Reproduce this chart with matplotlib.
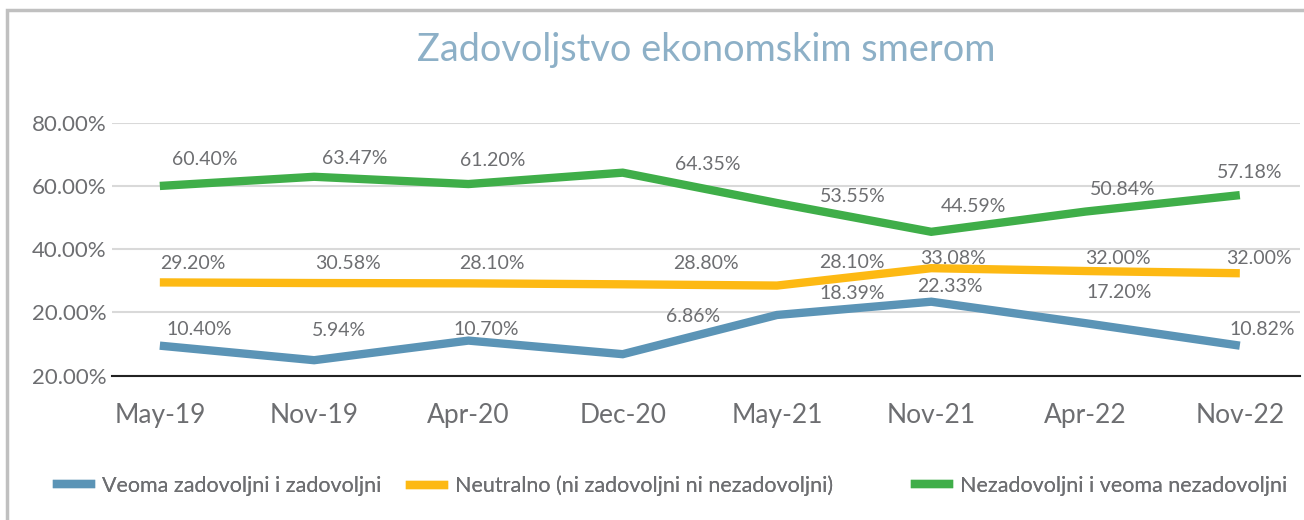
import matplotlib
matplotlib.use('Agg')
import matplotlib.pyplot as plt
from matplotlib.patches import Rectangle
from matplotlib.lines import Line2D

plt.rcParams['font.family'] = ['Lato', 'DejaVu Sans']

# data
periods = ['May-19', 'Nov-19', 'Apr-20', 'Dec-20', 'May-21', 'Nov-21', 'Apr-22', 'Nov-22']
series_names = ['Veoma zadovoljni i zadovoljni',
                'Neutralno (ni zadovoljni ni nezadovoljni)',
                'Nezadovoljni i veoma nezadovoljni']
satisfied = [9.5, 4.9, 11.1, 6.8, 19.2, 23.4, 16.6, 9.5]
neutral = [29.5, 29.3, 29.2, 28.9, 28.5, 34.0, 33.1, 32.4]
unsatisfied = [60.0, 62.9, 60.6, 64.2, 54.6, 45.5, 51.9, 57.1]
satisfied_lbl = ['10.40%', '5.94%', '10.70%', '6.86%', '18.39%', '22.33%', '17.20%', '10.82%']
neutral_lbl = ['29.20%', '30.58%', '28.10%', '28.80%', '28.10%', '33.08%', '32.00%', '32.00%']
unsatisfied_lbl = ['60.40%', '63.47%', '61.20%', '64.35%', '53.55%', '44.59%', '50.84%', '57.18%']
ytick_vals = [0, 20, 40, 60, 80]
ytick_lbls = ['20.00%', '20.00%', '40.00%', '60.00%', '80.00%']

# label placement (pixels right / up from each point)
sat_off = [(39, 16), (25, 30), (18, 11), (70, 38), (75, 21), (19, 15), (34, 31), (22, 16)]
neu_off = [(33, 19), (34, 20), (23, 20), (83, 21), (75, 23), (22, 10), (32, 13), (19, 15)]
uns_off = [(45, 26), (41, 18), (24, 24), (85, 8), (76, 7), (42, 25), (37, 22), (10, 23)]

colors = ['#5b94b6', '#fdb913', '#3fae49']
txt = '#6d6e71'

W, H = 1304, 520
fig = plt.figure(figsize=(W / 100, H / 100), dpi=100)
fig.patches.append(Rectangle((7 / W, -0.1), 1.2, (H - 10) / H + 0.1, transform=fig.transFigure,
                             fill=False, edgecolor='#c0c0c0', linewidth=2.5))

ax = fig.add_axes([112 / W, (H - 375.7) / H, (1300 - 112) / W, (375.7 - 122.7) / H])
x = list(range(len(periods)))
data = [satisfied, neutral, unsatisfied]
labels = [satisfied_lbl, neutral_lbl, unsatisfied_lbl]
offsets = [sat_off, neu_off, uns_off]

for vals, lbls, c, offs in zip(data, labels, colors, offsets):
    ax.plot(x, vals, color=c, linewidth=6, solid_capstyle='butt', solid_joinstyle='miter')
    for xi, v, l, (dx, dy) in zip(x, vals, lbls, offs):
        ax.annotate(l, (xi, v), xytext=(dx * 0.72, dy * 0.72), textcoords='offset points',
                    ha='center', va='center', fontsize=14, color=txt)

ax.set_ylim(0, 80)
ax.set_xlim(-0.31, 7.39)
ax.set_yticks(ytick_vals)
ax.set_yticklabels(ytick_lbls, fontsize=16, color=txt)
ax.set_xticks(x)
ax.set_xticklabels(periods, fontsize=19, color=txt)
ax.tick_params(axis='both', length=0)
ax.tick_params(axis='x', pad=20)
ax.tick_params(axis='y', pad=4)
ax.grid(axis='y', color='#d9d9d9', linewidth=1.5)
ax.set_axisbelow(True)
for s in ['top', 'right', 'left']:
    ax.spines[s].set_visible(False)
ax.spines['bottom'].set_color('#222222')
ax.spines['bottom'].set_linewidth(1.5)

fig.text(706 / W, 1 - 50 / H, 'Zadovoljstvo ekonomskim smerom', ha='center', va='center',
         fontsize=27.3, color='#8db0c7')

# legend entries placed one by one like the original
for name, c, lx in zip(series_names, colors, [57, 410, 915]):
    leg = fig.legend([Line2D([0], [0], color=c, linewidth=6)], [name], loc='center left',
                     bbox_to_anchor=(lx / W, 1 - 486 / H), frameon=False, fontsize=15.5,
                     labelcolor=txt, handlelength=1.6, handletextpad=0.5,
                     borderpad=0, borderaxespad=0)
    fig.add_artist(leg)

fig.savefig('out.png', dpi=100)
